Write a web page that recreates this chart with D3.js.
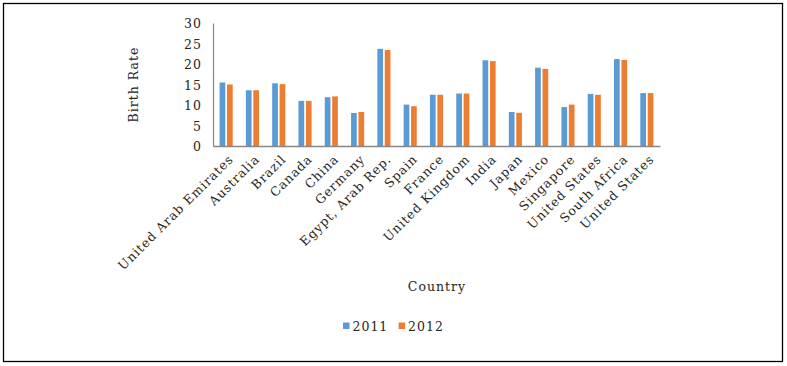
<!DOCTYPE html>
<html>
<head>
<meta charset="utf-8">
<script src="https://cdn.jsdelivr.net/npm/d3@7/dist/d3.min.js"></script>
<style>
  html, body { margin: 0; padding: 0; background: #fff; }
  svg text { font-family: "DejaVu Serif", serif; fill: #262626; }
</style>
</head>
<body>
<svg id="chart" width="787" height="366"></svg>
<script>
const categories = ["United Arab Emirates","Australia","Brazil","Canada","China","Germany","Egypt, Arab Rep.","Spain","France","United Kingdom","India","Japan","Mexico","Singapore","United States","South Africa","United States"];
const series = ["2011","2012"];
const values2011 = [15.5,13.6,15.3,11.0,11.9,8.05,23.7,10.1,12.5,12.8,20.9,8.3,19.1,9.5,12.7,21.2,12.9];
const values2012 = [15.0,13.6,15.1,11.0,12.1,8.3,23.4,9.7,12.5,12.8,20.7,8.1,18.8,10.1,12.5,21.0,12.9];
const yTicks = [0,5,10,15,20,25,30];
const colors = {"2011":"#5B9BD5","2012":"#ED7D31"};

const svg = d3.select("#chart");
// outer border
svg.append("rect").attr("x",3.5).attr("y",3.5).attr("width",779).attr("height",358)
  .attr("fill","#fff").attr("stroke","#000").attr("stroke-width",1.3);

const pLeft = 213, pRight = 660, pTop = 23, pBottom = 146;
const x0 = d3.scaleBand().domain(d3.range(categories.length)).range([pLeft,pRight]).padding(0);
const x1 = d3.scaleBand().domain(series).range([0,13.1]).paddingInner(0.23).paddingOuter(0);
const y = d3.scaleLinear().domain([0,30]).range([pBottom,pTop]);

const data = categories.map((c,i)=>({i, c, v:{"2011":values2011[i],"2012":values2012[i]}}));

const g = svg.append("g");
const grp = g.selectAll("g.grp").data(data).enter().append("g")
  .attr("transform", d=>`translate(${x0(d.i)+x0.bandwidth()/2-6.55},0)`);
grp.selectAll("rect").data(d=>series.map(s=>({s, v:d.v[s]}))).enter().append("rect")
  .attr("x", d=>x1(d.s)).attr("width", x1.bandwidth())
  .attr("y", d=>y(d.v)).attr("height", d=>y(0)-y(d.v))
  .attr("fill", d=>colors[d.s]);

// y axis
const yAxis = d3.axisLeft(y).tickValues(yTicks).tickSize(0).tickPadding(11);
const ya = svg.append("g").attr("transform",`translate(${pLeft},0)`).call(yAxis);
ya.select(".domain").attr("stroke","#868686").attr("stroke-width",1.2);
ya.selectAll("text").style("font-family","DejaVu Serif").style("font-size","12.5px")
  .style("letter-spacing","1px").attr("fill","#262626").attr("dy","0.36em");

// x axis
const xAxis = d3.axisBottom(x0).tickSize(0).tickFormat(i=>categories[i]);
const xa = svg.append("g").attr("transform",`translate(0,${pBottom})`).call(xAxis);
xa.select(".domain").attr("stroke","#868686").attr("stroke-width",1.5);
xa.selectAll("text").style("font-family","DejaVu Serif").style("font-size","12.5px")
  .style("letter-spacing","0.9px").attr("fill","#262626")
  .attr("text-anchor","end").attr("dy",null).attr("y",0)
  .attr("transform","translate(8,14) rotate(-45)");

// axis titles
svg.append("text").attr("x",437).attr("y",291).attr("text-anchor","middle")
  .style("font-size","12.5px").style("letter-spacing","1px").text("Country");
svg.append("text").attr("transform","translate(138,84.5) rotate(-90)").attr("text-anchor","middle")
  .style("font-size","12.5px").style("letter-spacing","1px").text("Birth Rate");

// legend
const legend = svg.append("g").attr("transform","translate(343,326)");
const items = legend.selectAll("g").data(series).enter().append("g")
  .attr("transform",(d,i)=>`translate(${i*55.6},0)`);
items.append("rect").attr("x",0).attr("y",-3.5).attr("width",6.5).attr("height",6.5).attr("fill",d=>colors[d]);
items.append("text").attr("x",9.5).attr("y",0).attr("dy","0.36em")
  .style("font-size","12.5px").style("letter-spacing","1px").text(d=>d);
</script>
</body>
</html>
